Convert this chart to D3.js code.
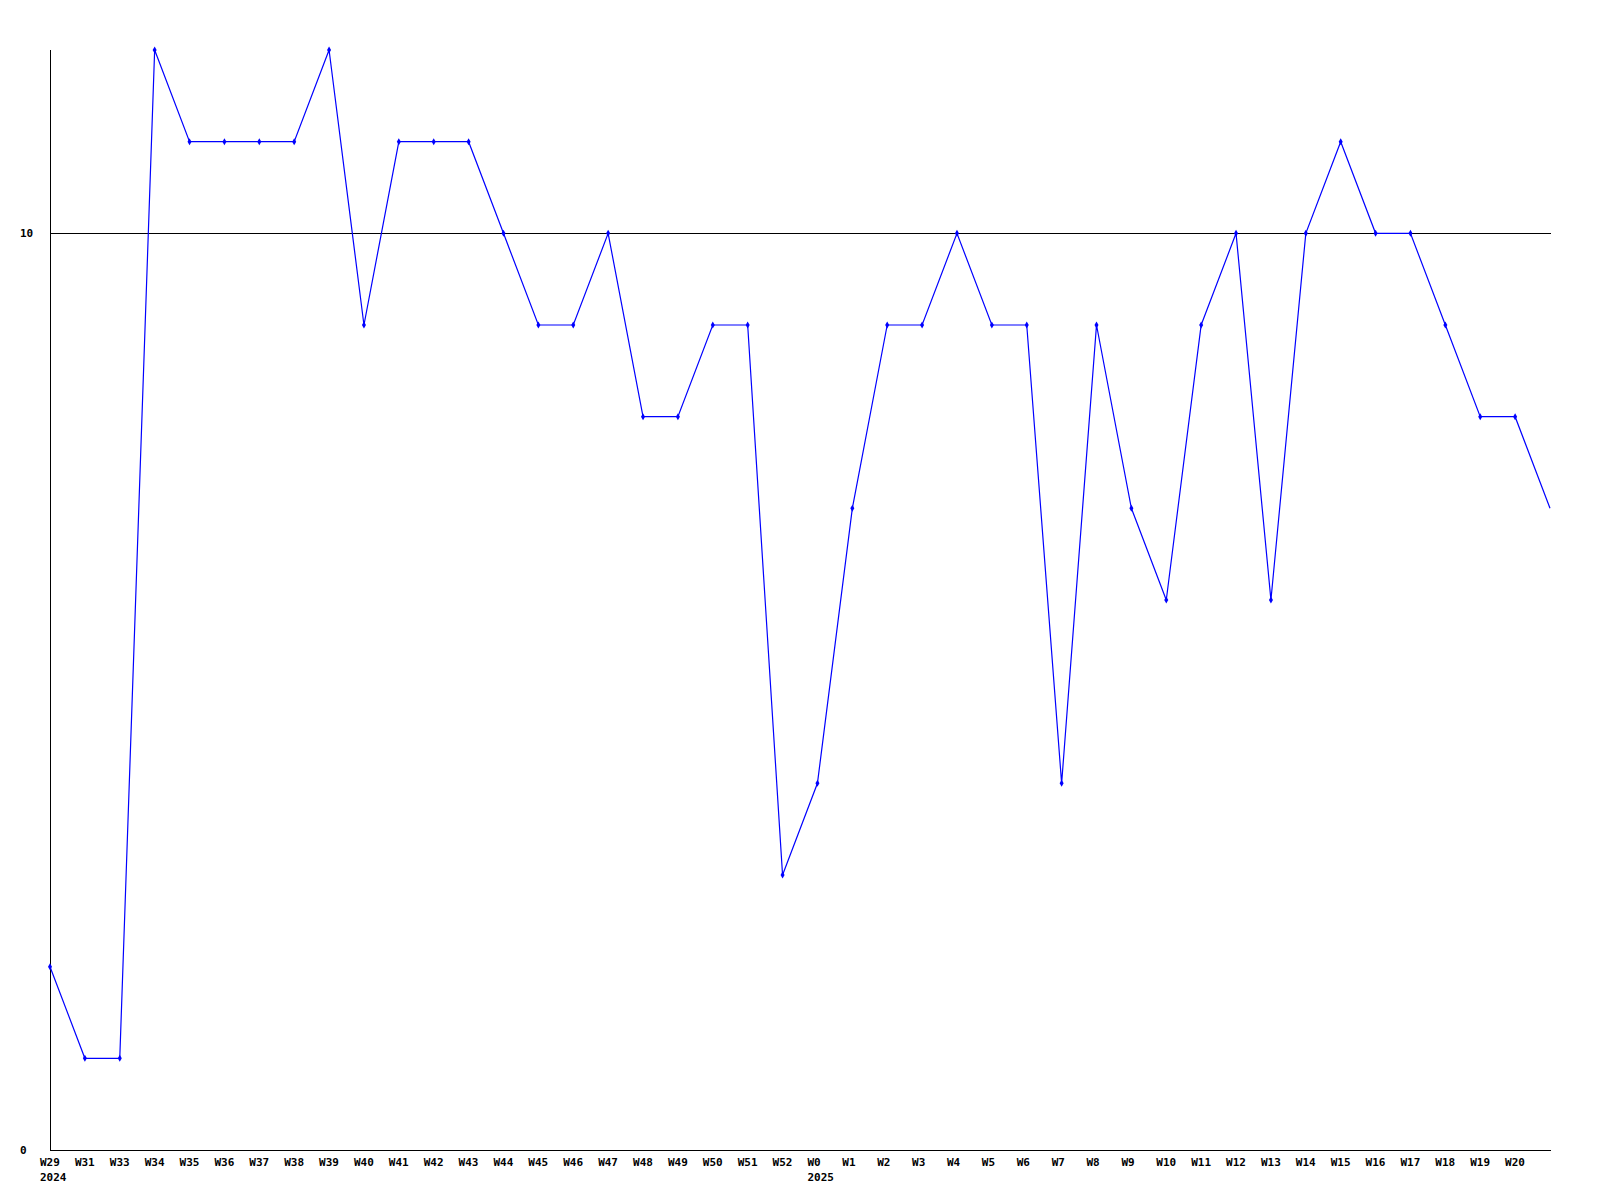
<!DOCTYPE html>
<html>
<head>
<meta charset="utf-8">
<script src="https://cdn.jsdelivr.net/npm/d3@7"></script>
<style>
  html, body { margin: 0; padding: 0; background: #fff; }
  svg { display: block; }
  text { font-family: "DejaVu Sans Mono", "Liberation Mono", monospace; font-weight: bold; font-size: 11px; fill: #000; }
</style>
</head>
<body>
<script>
const weeks = ["W29","W31","W33","W34","W35","W36","W37","W38","W39","W40","W41","W42","W43","W44","W45","W46","W47","W48","W49","W50","W51","W52","W0","W1","W2","W3","W4","W5","W6","W7","W8","W9","W10","W11","W12","W13","W14","W15","W16","W17","W18","W19","W20","W21"];
const tickWeeks = weeks.slice(0, 43);
const yearLabels = [{week: "W29", year: "2024"}, {week: "W0", year: "2025"}];
const values = [2,1,1,12,11,11,11,11,12,9,11,11,11,10,9,9,10,8,8,9,9,3,4,7,9,9,10,9,9,4,9,7,6,9,10,6,10,11,10,10,9,8,8,7];
const yTicks = [0, 10];
const refValue = 10;

(function () {
const W = 1600, H = 1200;
const mLeft = 50, mRight = 1550, mTop = 50, mBottom = 1150;

const svg = d3.select("body").append("svg").attr("width", W).attr("height", H);

const x = d3.scalePoint().domain(weeks).range([mLeft, mRight]);
const y = d3.scaleLinear().domain([0, 12]).range([mBottom, mTop]);

// axes lines
svg.append("line").attr("x1", mLeft + 0.5).attr("x2", mLeft + 0.5).attr("y1", mTop).attr("y2", mBottom + 0.5)
  .attr("stroke", "#000").attr("stroke-width", 1).attr("shape-rendering", "crispEdges");
svg.append("line").attr("x1", mLeft).attr("x2", mRight + 1).attr("y1", mBottom + 0.5).attr("y2", mBottom + 0.5)
  .attr("stroke", "#000").attr("stroke-width", 1).attr("shape-rendering", "crispEdges");

// reference line at 10
svg.append("line").attr("x1", mLeft).attr("x2", mRight + 1)
  .attr("y1", Math.round(y(refValue)) + 0.5).attr("y2", Math.round(y(refValue)) + 0.5)
  .attr("stroke", "#000").attr("stroke-width", 1).attr("shape-rendering", "crispEdges");

// y tick labels
svg.selectAll("text.ytick").data(yTicks).enter().append("text")
  .attr("class", "ytick")
  .attr("x", 20)
  .attr("y", d => y(d))
  .attr("dy", "0.35em")
  .text(d => d);

// x tick labels
svg.selectAll("text.xtick").data(tickWeeks).enter().append("text")
  .attr("class", "xtick")
  .attr("x", d => x(d) - 10)
  .attr("y", mBottom + 16)
  .text(d => d);

svg.selectAll("text.year").data(yearLabels).enter().append("text")
  .attr("class", "year")
  .attr("x", d => x(d.week) - 10)
  .attr("y", mBottom + 31)
  .text(d => d.year);

// line
const line = d3.line().x((d, i) => x(weeks[i])).y(d => y(d));
svg.append("path").datum(values)
  .attr("d", line)
  .attr("fill", "none")
  .attr("stroke", "#0000ff")
  .attr("stroke-width", 1.2);

// markers (not at last, clipped point)
const diamond = d3.symbol().type(d3.symbolDiamond).size(14);
svg.selectAll("path.mark").data(values.slice(0, values.length - 1)).enter().append("path")
  .attr("class", "mark")
  .attr("transform", (d, i) => `translate(${x(weeks[i])},${y(d)})`)
  .attr("d", diamond)
  .attr("fill", "#0000ff");
})();
</script>
</body>
</html>
